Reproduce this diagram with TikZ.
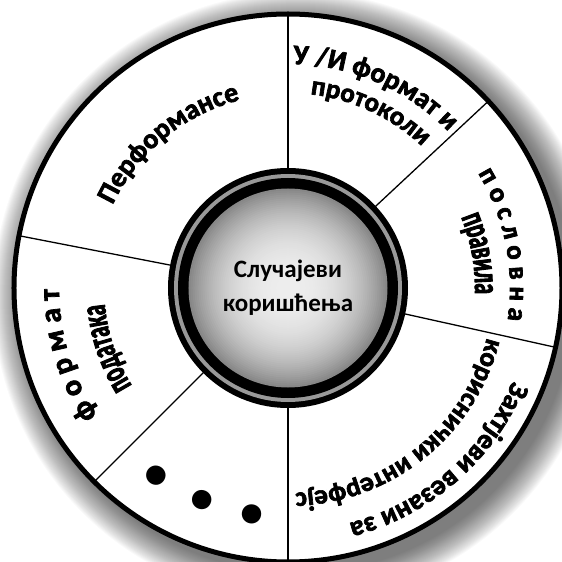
\documentclass[tikz,border=0pt]{standalone}
\usepackage{fontspec}
\setmainfont{Carlito}
\newfontface\heavyface[FakeBold=2.5]{Carlito Bold}
\newfontface\heavynarrow[FakeBold=2.5, FakeStretch=0.6]{Carlito Bold}
\usetikzlibrary{decorations.text}
\newcommand\arctext[5]{%
  \path[decorate, decoration={text along path, text align=center,
    text={|#4\fontsize{#3}{#3}\selectfont|#5}}]
    ({#1+80}:#2) arc[start angle={#1+80}, end angle={#1-80}, radius=#2];}
\tikzset{
  segline/.style={line width=1.3pt, black},
  outerring/.style={line width=5pt, draw=black, fill=white},
  dotglyph/.style={inner sep=0pt, font=\fontsize{130}{130}\selectfont\bfseries},
  centertext/.style={align=center, font=\fontsize{25}{34}\selectfont\bfseries},
}
\begin{document}
\begin{tikzpicture}[x=1pt,y=1pt]
\useasboundingbox (-288,-274) rectangle (274,288);
% shadow
\foreach \i in {0,...,29} {
  \fill[black, fill opacity=0.024] (10,-9) circle ({305-\i});
}
% main disc
\draw[outerring] (0,0) circle (274);
% segment lines
\foreach \a in {90,169,225,270,347.5,43} {
  \draw[segline] (\a:118) -- (\a:272);
}
% inner ring
\fill[black] (0,0) circle (120);
\fill[black!40] (0,0) circle (114);
\fill[black] (0,0) circle (110);
\foreach \i in {0,...,49} {
  \pgfmathsetmacro\r{99.5*(1-\i/50)}
  \pgfmathsetmacro\p{7+40*(1-\i/50)^2.5}
  \fill[black!\p] (0,0) circle (\r);
}
\node[centertext] (center) at (0,0) {Случајеви\\коришћења};
% ring texts
\arctext{129.5}{194}{28}{\heavyface}{Перформансе}
\arctext{66.5}{224}{28}{\heavyface}{У /И формат и}
\arctext{65}{195}{27}{\heavyface}{протоколи}
\arctext{11.4}{222}{27}{\heavyface}{п о с л о в н а}
\arctext{10.2}{187}{36}{\heavynarrow}{правила}
\arctext{-49}{243}{28}{\heavyface}{Захтјеви везани за}
\arctext{-51}{205}{27}{\heavyface}{кориснички интерфејс}
\arctext{197}{229}{30}{\heavyface}{ф о р м а т}
\arctext{198.5}{184}{36}{\heavynarrow}{података}
% dots
\node[dotglyph, rotate=145] (d1) at (235:229) {.};
\node[dotglyph, rotate=158] (d2) at (248:229) {.};
\node[dotglyph, rotate=171] (d3) at (261:229) {.};
\end{tikzpicture}
\end{document}
